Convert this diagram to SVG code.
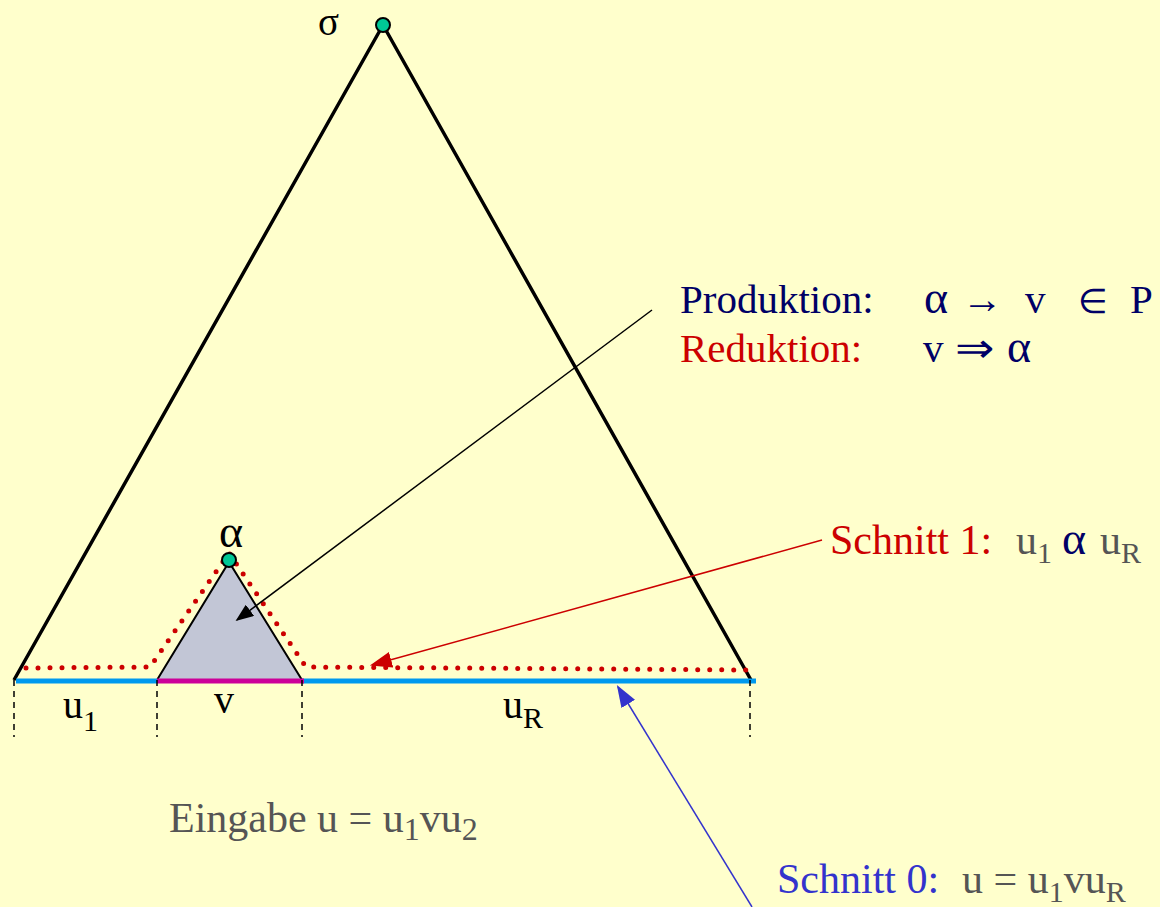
<svg xmlns="http://www.w3.org/2000/svg" width="1160" height="907" viewBox="0 0 1160 907">
<style>
text{font-family:"Liberation Serif","Times New Roman",serif}
.navy{fill:#000066}
.red{fill:#cc0000}
.blue{fill:#3333cc}
.gray{fill:#555555}
.dash{stroke:#000;stroke-width:1.5;stroke-dasharray:6 5;fill:none}
</style>
<defs>
<marker id="ak" viewBox="0 0 10 10" refX="9" refY="5" markerWidth="18" markerHeight="14" markerUnits="userSpaceOnUse" orient="auto" preserveAspectRatio="none"><path d="M0,0 L10,5 L0,10 z" fill="#000"/></marker>
<marker id="ar" viewBox="0 0 10 10" refX="9" refY="5" markerWidth="22" markerHeight="16" markerUnits="userSpaceOnUse" orient="auto" preserveAspectRatio="none"><path d="M0,0 L10,5 L0,10 z" fill="#cc0000"/></marker>
<marker id="ab" viewBox="0 0 10 10" refX="9" refY="5" markerWidth="22" markerHeight="16" markerUnits="userSpaceOnUse" orient="auto" preserveAspectRatio="none"><path d="M0,0 L10,5 L0,10 z" fill="#3333cc"/></marker>
</defs>
<rect width="1160" height="907" fill="#ffffcc"/>
<g id="big-tree">
<polyline points="14,680 383,25 751,680" fill="none" stroke="#000" stroke-width="3.5" stroke-linejoin="round"/>
</g>
<g id="small-tree">
<polygon points="157,680 229,562 302,680" fill="#c2c6d6" stroke="#000" stroke-width="2"/>
</g>
<g id="input-line">
<line x1="16" y1="681" x2="157" y2="681" stroke="#0099ee" stroke-width="5"/>
<line x1="302" y1="681" x2="756" y2="681" stroke="#0099ee" stroke-width="5"/>
<line x1="157" y1="681" x2="304" y2="681" stroke="#cc0099" stroke-width="5"/>
</g>
<g id="dashes">
<line class="dash" x1="14" y1="680" x2="14" y2="737"/>
<line class="dash" x1="157" y1="680" x2="157" y2="737"/>
<line class="dash" x1="302" y1="680" x2="302" y2="737"/>
<line class="dash" x1="750" y1="680" x2="750" y2="737"/>
</g>
<g id="cut1">
<polyline points="26,668 150,667 229,553 306,667 746,670" fill="none" stroke="#cc0000" stroke-width="5" stroke-linecap="round" stroke-dasharray="0 12"/>
</g>
<g id="node-sigma">
<circle cx="383" cy="25" r="7" fill="#00c896" stroke="#000" stroke-width="2"/>
<text x="318" y="35" font-size="39" fill="#000">σ</text>
</g>
<g id="node-alpha">
<circle cx="229" cy="560" r="7" fill="#00c896" stroke="#000" stroke-width="2"/>
<text x="219" y="547" font-size="46" fill="#000">α</text>
</g>
<g id="labels">
<text x="63" y="718" font-size="40" fill="#000">u<tspan font-size="30" dy="13">1</tspan></text>
<text x="214" y="713" font-size="40" fill="#000">v</text>
<text x="503" y="718" font-size="40" fill="#000">u<tspan font-size="30" dy="10">R</tspan></text>
<text x="169" y="832" font-size="42" class="gray">Eingabe u = u<tspan font-size="32" dy="8">1</tspan><tspan dy="-8">vu</tspan><tspan font-size="32" dy="8">2</tspan></text>
</g>
<g id="connectors">
<line x1="652" y1="310" x2="237" y2="620" stroke="#000" stroke-width="1.5" marker-end="url(#ak)"/>
<line x1="822" y1="540" x2="372" y2="665" stroke="#cc0000" stroke-width="1.5" marker-end="url(#ar)"/>
<line x1="752" y1="907" x2="618" y2="687" stroke="#3333cc" stroke-width="1.5" marker-end="url(#ab)"/>
</g>
<g id="production-label">
<text x="680" y="313" font-size="41" class="navy">Produktion:</text>
<text y="313" class="navy"><tspan x="924" font-size="46">α</tspan><tspan x="962" font-size="41" textLength="41" lengthAdjust="spacingAndGlyphs">→</tspan><tspan x="1025" font-size="41">v</tspan><tspan x="1078" font-size="34">∈</tspan><tspan x="1130" font-size="41">P</tspan></text>
<text x="680" y="362" font-size="41" class="red">Reduktion:</text>
<text y="362" class="navy"><tspan x="923" font-size="41">v</tspan><tspan x="955" font-size="41" textLength="39" lengthAdjust="spacingAndGlyphs">⇒</tspan><tspan x="1007" font-size="46">α</tspan></text>
</g>
<g id="schnitt1-label">
<text x="830" y="554" font-size="42" class="red">Schnitt 1:</text>
<text y="554" font-size="42"><tspan x="1016" class="gray">u</tspan><tspan class="gray" font-size="30" dy="9">1</tspan><tspan x="1062" class="navy" dy="-9" font-size="46">α</tspan><tspan x="1100" class="gray">u</tspan><tspan class="gray" font-size="30" dy="9">R</tspan></text>
</g>
<g id="schnitt0-label">
<text x="777" y="893" font-size="42" class="blue">Schnitt 0:</text>
<text x="962" y="893" font-size="42" class="gray">u = u<tspan font-size="30" dy="9">1</tspan><tspan dy="-9">vu</tspan><tspan font-size="30" dy="9">R</tspan></text>
</g>
</svg>
